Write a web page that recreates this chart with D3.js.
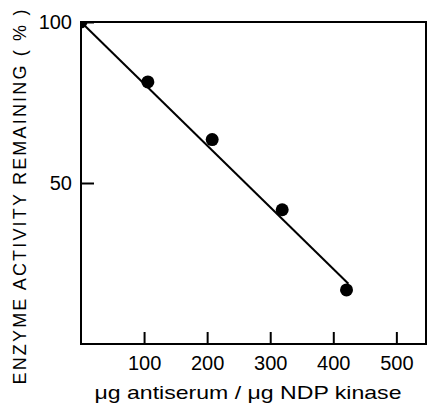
<!DOCTYPE html>
<html><head><meta charset="utf-8">
<script src="https://cdn.jsdelivr.net/npm/d3@7"></script>
<style>body{margin:0;background:#fff}svg{display:block}text{font-family:"Liberation Sans",Arial,sans-serif;fill:#000}</style>
</head><body>
<script>
const xValues = [0, 106, 208, 319, 421];
const yValues = [100, 81.4, 63.5, 41.7, 16.8];
const fitX = [0, 424];
const fitY = [100, 18.7];
const xTicks = [100, 200, 300, 400, 500];
const yTicks = [50, 100];
const xTitle = "\u03bcg antiserum / \u03bcg NDP kinase";
const yTitle = "ENZYME ACTIVITY REMAINING ( % )";

const W = 428, H = 414;
const m = {left: 81, right: 2, top: 22, bottom: 70};
const svg = d3.select("body").append("svg").attr("width", W).attr("height", H);
const x = d3.scaleLinear().domain([0, 547]).range([m.left, W - m.right]);
const y = d3.scaleLinear().domain([0, 100]).range([H - m.bottom, m.top]);

svg.append("defs").append("clipPath").attr("id", "clip")
  .append("rect").attr("x", m.left).attr("y", m.top)
  .attr("width", W - m.right - m.left).attr("height", H - m.bottom - m.top);

// frame
svg.append("rect").attr("x", m.left).attr("y", m.top)
  .attr("width", W - m.right - m.left).attr("height", H - m.bottom - m.top)
  .attr("fill", "none").attr("stroke", "#000").attr("stroke-width", 2);

// x axis (inward ticks)
const xAxis = svg.append("g").attr("transform", `translate(0,${H - m.bottom})`)
  .call(d3.axisBottom(x).tickValues(xTicks).tickSizeInner(-12).tickSizeOuter(0).tickPadding(12));
xAxis.select(".domain").remove();
xAxis.selectAll("line").attr("stroke-width", 2);
xAxis.selectAll("text").attr("font-size", 20).attr("font-family", "Liberation Sans, Arial, sans-serif");

const yAxis = svg.append("g").attr("transform", `translate(${m.left},0)`)
  .call(d3.axisLeft(y).tickValues(yTicks).tickSizeInner(-13).tickSizeOuter(0).tickPadding(9));
yAxis.select(".domain").remove();
yAxis.selectAll("line").attr("stroke-width", 2);
yAxis.selectAll("text").attr("font-size", 20).attr("font-family", "Liberation Sans, Arial, sans-serif");

// fit line
svg.append("line")
  .attr("x1", x(fitX[0])).attr("y1", y(fitY[0]))
  .attr("x2", x(fitX[1])).attr("y2", y(fitY[1]))
  .attr("stroke", "#000").attr("stroke-width", 2);

// points
svg.append("g").attr("clip-path", "url(#clip)")
  .selectAll("circle").data(xValues).join("circle")
  .attr("cx", (d) => x(d)).attr("cy", (d, i) => y(yValues[i]))
  .attr("r", 6.5).attr("fill", "#000");

svg.append("text").attr("x", 248).attr("y", 399).attr("text-anchor", "middle")
  .attr("font-size", 19).attr("textLength", 307).attr("lengthAdjust", "spacingAndGlyphs").text(xTitle);

svg.append("text").attr("transform", "translate(26,197) rotate(-90)").attr("text-anchor", "middle")
  .attr("font-size", 18).attr("textLength", 375).attr("lengthAdjust", "spacing").text(yTitle);
</script>
</body></html>
